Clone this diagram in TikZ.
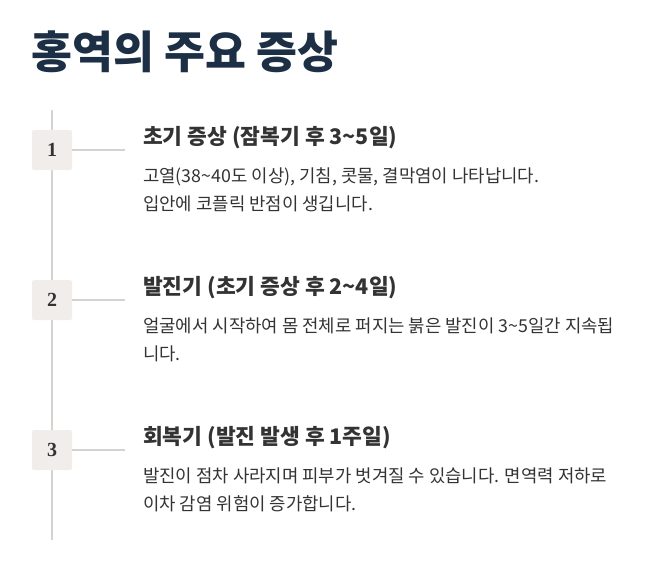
\documentclass[tikz,border=0pt]{standalone}
\usepackage{fontspec}
\setmainfont{Noto Sans CJK KR}
\newfontfamily\numfont{Liberation Serif}
\definecolor{navy}{HTML}{1D2F45}
\definecolor{txt}{HTML}{333333}
\definecolor{lgray}{HTML}{D6D2CF}
\definecolor{boxc}{HTML}{F0EDEA}
\begin{document}
\begin{tikzpicture}[x=1pt,y=-1pt,
  numbox/.style={fill=boxc,rounded corners=1.5,minimum width=40pt,minimum height=40pt,inner sep=0pt,font=\numfont\fontsize{20}{20}\selectfont\bfseries,text=txt},
  ttl/.style={anchor=west,font=\fontsize{21.5}{24}\selectfont\bfseries,text=txt},
  body/.style={anchor=north west,align=left,inner sep=0pt,font=\fontsize{17.8}{28}\selectfont,text=txt},
  conn/.style={draw=lgray,line width=1.5pt}]
\useasboundingbox (0,0) rectangle (653,573);
\node[anchor=west,inner sep=0pt,font=\fontsize{44.5}{46}\selectfont\bfseries,text=navy] (title) at (31,52) {홍역의 주요 증상};
\coordinate (top) at (52,110);
\coordinate (bot) at (52,540);
\draw[conn] (top) -- (bot);
\foreach \n/\y/\t/\b in {
 1/150/{초기 증상 (잠복기 후 3\textasciitilde5일)}/{고열(38\textasciitilde40도 이상), 기침, 콧물, 결막염이 나타납니다.\\입안에 코플릭 반점이 생깁니다.},
 2/300/{발진기 (초기 증상 후 2\textasciitilde4일)}/{얼굴에서 시작하여 몸 전체로 퍼지는 붉은 발진이 3\textasciitilde5일간 지속됩\\니다.},
 3/450/{회복기 (발진 발생 후 1주일)}/{발진이 점차 사라지며 피부가 벗겨질 수 있습니다. 면역력 저하로\\이차 감염 위험이 증가합니다.}}{
 \node[numbox] (b\n) at (52,\y) {\n};
 \coordinate (e\n) at (125,\y);
 \draw[conn] (b\n.east) -- (e\n);
 \node[ttl,inner sep=0pt] (t\n) at (143,\y-12) {\t};
 \node[body] (d\n) at (143,\y+18) {\b};
}
\end{tikzpicture}
\end{document}
